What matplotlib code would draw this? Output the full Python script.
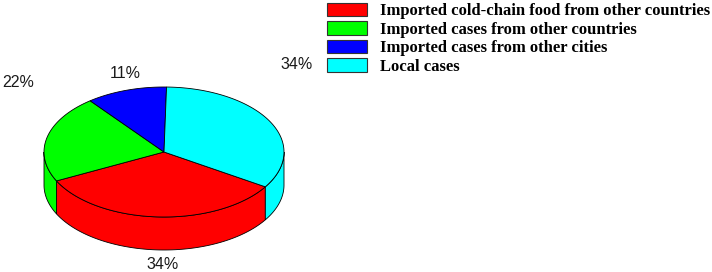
import numpy as np
import matplotlib
matplotlib.use("Agg")
import matplotlib.pyplot as plt
from matplotlib.patches import Polygon, Patch

# === DATA ===
categories = [
    "Imported cold-chain food from other countries",
    "Imported cases from other countries",
    "Imported cases from other cities",
    "Local cases",
]
values = [34, 22, 11, 34]
colors = ["#ff0000", "#00ff00", "#0000ff", "#00ffff"]

# === STYLE / GEOMETRY (pixel units) ===
cx, cy = 164, 152      # centre of the top face
ra, rb = 120, 65       # ellipse semi axes
depth = 33             # thickness of the pie
start_angle = -32.4    # slices run clockwise from here
# small nudges for the percent labels (pixels)
label_nudge = [(6, 35), (-5, -52), (7, -4), (6, -51)]


def arc(t0, t1, n=80):
    t = np.radians(np.linspace(t0, t1, n))
    return cx + ra * np.cos(t), cy - rb * np.sin(t)


def plot_pie3():
    fig = plt.figure(figsize=(7.12, 2.72), dpi=100)
    ax = fig.add_axes([0, 0, 1, 1])
    ax.set_xlim(0, 712)
    ax.set_ylim(272, 0)
    ax.axis("off")

    frac = np.array(values, dtype=float) / np.sum(values)
    spans = frac * 360
    his = start_angle - np.concatenate([[0], np.cumsum(spans)[:-1]])
    los = his - spans

    # side walls (front half only, angles between -180 and 0)
    for lo, hi, col in zip(los, his, colors):
        for k in range(-2, 2):
            a0, a1 = -180 + 360 * k, 0 + 360 * k
            s0, s1 = max(lo, a0), min(hi, a1)
            if s1 > s0:
                x, y = arc(s0, s1)
                pts = np.column_stack([np.r_[x, x[::-1]], np.r_[y, (y + depth)[::-1]]])
                ax.add_patch(Polygon(pts, closed=True, facecolor=col,
                                     edgecolor="black", linewidth=0.6, zorder=1))

    # top faces
    for lo, hi, col in zip(los, his, colors):
        x, y = arc(lo, hi)
        pts = np.column_stack([np.r_[cx, x], np.r_[cy, y]])
        ax.add_patch(Polygon(pts, closed=True, facecolor=col,
                             edgecolor="black", linewidth=0.6, zorder=2))

    # percent labels
    total = np.sum(values)
    for lo, hi, v, (dx, dy) in zip(los, his, values, label_nudge):
        m = np.radians((lo + hi) / 2)
        lx = cx + 1.2 * ra * np.cos(m) + dx
        ly = cy - 1.2 * rb * np.sin(m) + dy
        ax.text(lx, ly, f"{round(100 * v / total)}%", ha="center", va="center",
                fontsize=11.5, family="Liberation Sans", color="#1a1a1a")

    handles = [Patch(facecolor=c, edgecolor="#333333", linewidth=0.8) for c in colors]
    ax.legend(handles, categories, loc="upper right", bbox_to_anchor=(1.0, 0.995),
              frameon=False, handlelength=2.4, handleheight=0.85, handletextpad=0.8,
              labelspacing=0.12, borderaxespad=0.0, borderpad=0.1,
              prop={"family": "Liberation Serif", "weight": "bold", "size": 12})

    fig.savefig("out.png", dpi=100)


if __name__ == "__main__":
    plot_pie3()
